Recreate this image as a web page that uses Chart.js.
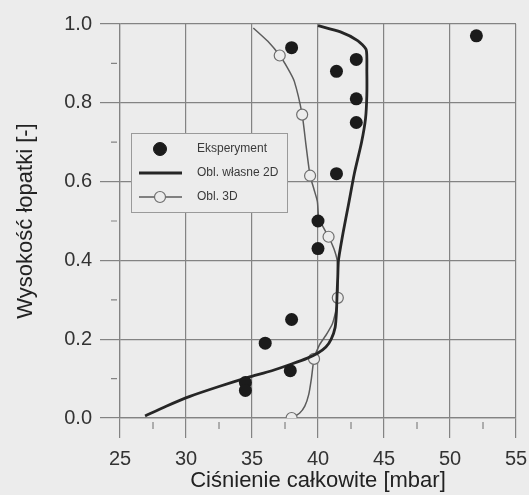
<!DOCTYPE html>
<html lang="pl">
<head>
<meta charset="UTF-8">
<title>Ciśnienie całkowite</title>
<script src="https://cdn.jsdelivr.net/npm/chart.js@4.4.1/dist/chart.umd.min.js"></script>
<style>
  html, body { margin: 0; padding: 0; background: #ececec; }
</style>
</head>
<body>
<canvas id="myChart" width="529" height="495"></canvas>
<script>
  // Pomiary (Eksperyment)
  const expPressure = [52.0, 38.0, 42.9, 41.4, 42.9, 42.9, 41.4, 40.0, 40.0, 38.0, 36.0, 37.9, 34.5, 34.5];
  const expHeight   = [0.97, 0.94, 0.91, 0.88, 0.81, 0.75, 0.62, 0.50, 0.43, 0.25, 0.19, 0.12, 0.09, 0.07];

  // Obliczenia własne 2D
  const calc2dPressure = [26.9, 28.5, 30.3, 32.5, 34.7, 36.5, 38.0, 39.2, 40.0, 40.6, 41.0, 41.3, 41.4, 41.45,
                          41.5, 41.55, 41.9, 42.3, 42.75, 43.3, 43.6, 43.7, 43.7, 43.65, 43.0, 41.7, 40.0];
  const calc2dHeight   = [0.005, 0.03, 0.055, 0.08, 0.103, 0.12, 0.137, 0.152, 0.165, 0.18, 0.20, 0.23, 0.27, 0.32,
                          0.36, 0.40, 0.47, 0.54, 0.62, 0.70, 0.76, 0.82, 0.88, 0.935, 0.958, 0.98, 0.996];

  // Obliczenia 3D (1 = punkt z markerem)
  const calc3dPressure = [38.0, 38.6, 39.0, 39.3, 39.5, 39.7, 40.1, 40.6, 41.1, 41.4, 41.5, 41.5, 41.45, 41.2,
                          40.8, 40.3, 40.05, 39.95, 39.7, 39.4, 39.1, 38.8, 38.2, 37.7, 37.1, 36.2, 35.1];
  const calc3dHeight   = [0.0, 0.012, 0.03, 0.06, 0.10, 0.15, 0.185, 0.21, 0.24, 0.28, 0.305, 0.35, 0.40, 0.43,
                          0.46, 0.49, 0.51, 0.55, 0.58, 0.615, 0.69, 0.77, 0.855, 0.888, 0.92, 0.956, 0.99];
  const calc3dMarker   = [1, 0, 0, 0, 0, 1, 0, 0, 0, 0, 1, 0, 0, 0, 1, 0, 0, 0, 0, 1, 0, 1, 0, 0, 1, 0, 0];

  // Osie
  const xRange = [25, 55];
  const yRange = [0, 1];
  const xMinor = [27.5, 32.5, 37.5, 42.5, 47.5, 52.5];
  const yMinor = [0.1, 0.3, 0.5, 0.7, 0.9];

  const BG = '#ececec';
  const GRID = '#838383';
  const FONT = '"Liberation Sans", Arial, sans-serif';

  const toPoints = (xs, ys) => xs.map((x, i) => ({ x: x, y: ys[i] }));

  // drobne kreski pomiędzy głównymi podziałkami
  const minorTicks = {
    id: 'minorTicks',
    afterDraw(chart) {
      const ctx = chart.ctx, a = chart.chartArea;
      const xs = chart.scales.x, ys = chart.scales.y;
      ctx.save();
      ctx.strokeStyle = GRID;
      ctx.lineWidth = 1.2;
      ctx.beginPath();
      xMinor.forEach(v => {
        const px = xs.getPixelForValue(v);
        ctx.moveTo(px, a.bottom + 4);
        ctx.lineTo(px, a.bottom + 11);
      });
      yMinor.forEach(v => {
        const py = ys.getPixelForValue(v);
        ctx.moveTo(a.left - 9, py);
        ctx.lineTo(a.left - 3, py);
      });
      ctx.stroke();
      ctx.restore();
    }
  };

  // legenda w ramce wewnątrz wykresu
  const boxLegend = {
    id: 'boxLegend',
    afterDraw(chart) {
      const ctx = chart.ctx, a = chart.chartArea;
      const x0 = a.left + 11, y0 = a.top + 109, w = 156, h = 79;
      ctx.save();
      ctx.fillStyle = BG;
      ctx.fillRect(x0, y0, w, h);
      ctx.strokeStyle = '#9a9a9a';
      ctx.lineWidth = 1;
      ctx.strokeRect(x0 + 0.5, y0 + 0.5, w, h);
      ctx.font = '12px ' + FONT;
      ctx.textBaseline = 'middle';
      chart.data.datasets.forEach((ds, i) => {
        const cy = y0 + 16 + i * 24;
        const cx = x0 + 29;
        if (ds.showLine !== false) {
          ctx.strokeStyle = ds.borderColor;
          ctx.lineWidth = ds.borderWidth;
          ctx.beginPath();
          ctx.moveTo(x0 + 8, cy);
          ctx.lineTo(x0 + 51, cy);
          ctx.stroke();
        }
        if (ds.legendMarker) {
          ctx.beginPath();
          ctx.arc(cx, cy, ds.legendMarker, 0, Math.PI * 2);
          ctx.fillStyle = ds.pointBackgroundColor;
          ctx.fill();
          ctx.lineWidth = ds.pointBorderWidth;
          ctx.strokeStyle = ds.pointBorderColor;
          ctx.stroke();
        }
        ctx.fillStyle = '#3a3a3a';
        ctx.fillText(ds.label, x0 + 66, cy);
      });
      ctx.restore();
    }
  };

  const ctx = document.getElementById('myChart').getContext('2d');
  const myChart = new Chart(ctx, {
    type: 'scatter',
    data: {
      datasets: [{
        label: 'Eksperyment',
        data: toPoints(expPressure, expHeight),
        showLine: false,
        pointRadius: 6.5,
        pointBackgroundColor: '#1b1b1b',
        pointBorderColor: '#1b1b1b',
        pointBorderWidth: 0,
        legendMarker: 6.5
      }, {
        label: 'Obl. własne 2D',
        data: toPoints(calc2dPressure, calc2dHeight),
        showLine: true,
        borderColor: '#262626',
        borderWidth: 2.8,
        tension: 0.2,
        pointRadius: 0
      }, {
        label: 'Obl. 3D',
        data: toPoints(calc3dPressure, calc3dHeight),
        showLine: true,
        borderColor: '#5c5c5c',
        borderWidth: 1.5,
        tension: 0.2,
        pointRadius: c => calc3dMarker[c.dataIndex] ? 5.5 : 0,
        pointBackgroundColor: BG,
        pointBorderColor: '#6e6e6e',
        pointBorderWidth: 1.2,
        legendMarker: 5.5
      }]
    },
    options: {
      responsive: false,
      animation: false,
      layout: { padding: { left: 0, right: 13, top: 24, bottom: 0 } },
      plugins: { legend: { display: false }, tooltip: { enabled: false } },
      scales: {
        x: {
          type: 'linear',
          min: xRange[0], max: xRange[1],
          ticks: { stepSize: 5, color: '#333', padding: 9, font: { family: FONT, size: 20 } },
          grid: { color: GRID, lineWidth: 1.2, tickLength: 20 },
          border: { color: GRID, width: 1.2 },
          title: { display: true, text: 'Ciśnienie całkowite [mbar]', color: '#222',
                   font: { family: FONT, size: 22 }, padding: { top: 0, bottom: 1 } },
          // stała wysokość osi, bez dodatkowego marginesu na skrajne etykiety
          afterFit(s) { s.height = 77; s.paddingLeft = 0; s.paddingRight = 0; }
        },
        y: {
          type: 'linear',
          min: yRange[0], max: yRange[1],
          ticks: { stepSize: 0.2, color: '#333', padding: 8, font: { family: FONT, size: 20 },
                   callback: v => v.toFixed(1) },
          grid: { color: GRID, lineWidth: 1.2, tickLength: 20 },
          border: { color: GRID, width: 1.2 },
          title: { display: true, text: 'Wysokość łopatki [-]', color: '#222',
                   font: { family: FONT, size: 22 }, padding: { top: 13, bottom: 0 } },
          afterFit(s) { s.width = 120; s.paddingTop = 0; s.paddingBottom = 0; }
        }
      }
    },
    plugins: [minorTicks, boxLegend]
  });
</script>
</body>
</html>
